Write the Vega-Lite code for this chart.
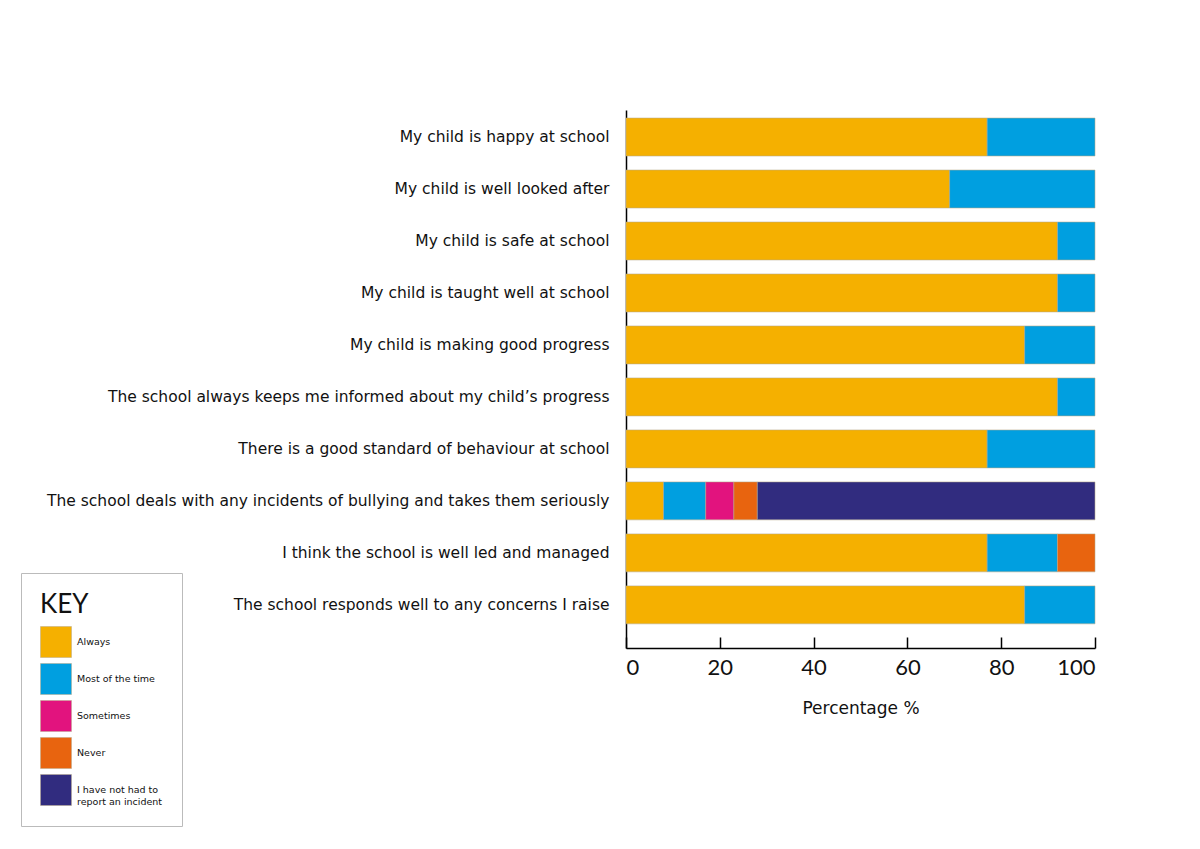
{
  "$schema": "https://vega.github.io/schema/vega-lite/v6.json",
  "autosize": "none",
  "width": 469,
  "height": 538,
  "padding": {"left": 626, "top": 110, "right": 105, "bottom": 201},
  "background": "white",
  "config": {"font": "Lato", "view": {"stroke": null}},
  "data": {"values": [
    {"q": "My child is happy at school", "r": "Always", "k": 1, "p": 77},
    {"q": "My child is happy at school", "r": "Most of the time", "k": 2, "p": 23},
    {"q": "My child is well looked after", "r": "Always", "k": 1, "p": 69},
    {"q": "My child is well looked after", "r": "Most of the time", "k": 2, "p": 31},
    {"q": "My child is safe at school", "r": "Always", "k": 1, "p": 92},
    {"q": "My child is safe at school", "r": "Most of the time", "k": 2, "p": 8},
    {"q": "My child is taught well  at school", "r": "Always", "k": 1, "p": 92},
    {"q": "My child is taught well  at school", "r": "Most of the time", "k": 2, "p": 8},
    {"q": "My child is making good progress", "r": "Always", "k": 1, "p": 85},
    {"q": "My child is making good progress", "r": "Most of the time", "k": 2, "p": 15},
    {"q": "The school always keeps me informed about my child’s progress", "r": "Always", "k": 1, "p": 92},
    {"q": "The school always keeps me informed about my child’s progress", "r": "Most of the time", "k": 2, "p": 8},
    {"q": "There is a good standard of behaviour at school", "r": "Always", "k": 1, "p": 77},
    {"q": "There is a good standard of behaviour at school", "r": "Most of the time", "k": 2, "p": 23},
    {"q": "The school deals with any incidents of bullying and takes them seriously", "r": "Always", "k": 1, "p": 8},
    {"q": "The school deals with any incidents of bullying and takes them seriously", "r": "Most of the time", "k": 2, "p": 9},
    {"q": "The school deals with any incidents of bullying and takes them seriously", "r": "Sometimes", "k": 3, "p": 6},
    {"q": "The school deals with any incidents of bullying and takes them seriously", "r": "Never", "k": 4, "p": 5},
    {"q": "The school deals with any incidents of bullying and takes them seriously", "r": "I have not had to report an incident", "k": 5, "p": 72},
    {"q": "I think the school is well led and managed", "r": "Always", "k": 1, "p": 77},
    {"q": "I think the school is well led and managed", "r": "Most of the time", "k": 2, "p": 15},
    {"q": "I think the school is well led and managed", "r": "Never", "k": 4, "p": 8},
    {"q": "The school responds well to any concerns I raise", "r": "Always", "k": 1, "p": 85},
    {"q": "The school responds well to any concerns I raise", "r": "Most of the time", "k": 2, "p": 15}
  ]},
  "mark": {"type": "bar", "stroke": "#b8a888", "strokeWidth": 0.8, "strokeOpacity": 0.7},
  "encoding": {
    "y": {
      "field": "q", "type": "nominal", "sort": null,
      "scale": {"paddingInner": 0.27, "paddingOuter": 0.31, "align": 0.25},
      "axis": {"title": null, "ticks": false, "domainColor": "#000", "domainWidth": 1.5,
               "labelFont": "DejaVu Sans", "labelFontSize": 15.5, "labelColor": "#111", "labelPadding": 17, "labelLimit": 620}
    },
    "x": {
      "field": "p", "type": "quantitative", "stack": "zero",
      "scale": {"domain": [0, 100], "nice": false},
      "axis": {"title": "Percentage %", "values": [0, 20, 40, 60, 80, 100], "grid": false,
               "domainColor": "#000", "domainWidth": 1.5, "tickColor": "#000", "tickWidth": 1.5, "tickSize": -11,
               "labelFontSize": 22, "labelColor": "#111", "labelPadding": 20, "labelFont": "Lato",
               "titleFont": "DejaVu Sans", "titleFontSize": 17, "titleFontWeight": "normal", "titleColor": "#111", "titlePadding": 22}
    },
    "color": {
      "field": "r", "type": "nominal",
      "sort": ["Always", "Most of the time", "Sometimes", "Never", "I have not had to report an incident"],
      "scale": {
        "domain": ["Always", "Most of the time", "Sometimes", "Never", "I have not had to report an incident"],
        "range": ["#F5B000", "#009FE0", "#E2137E", "#E8640F", "#312C7F"]
      },
      "legend": {
        "title": "KEY", "orient": "none", "legendX": -605, "legendY": 463,
        "titleFontSize": 26, "titleFontWeight": "normal", "titleColor": "#111", "titlePadding": 8,
        "symbolType": "square", "symbolSize": 961, "symbolStrokeColor": "#b8a888", "symbolStrokeWidth": 0.5,
        "labelFont": "DejaVu Sans", "labelFontSize": 9.5, "labelColor": "#111", "labelOffset": 5, "rowPadding": 3,
        "padding": 19, "strokeColor": "#bbb", "fillColor": "white", "cornerRadius": 0,
        "labelExpr": "datum.label == 'I have not had to report an incident' ? ['I have not had to', 'report an incident'] : datum.label"
      }
    },
    "order": {"field": "k", "type": "quantitative"}
  }
}
